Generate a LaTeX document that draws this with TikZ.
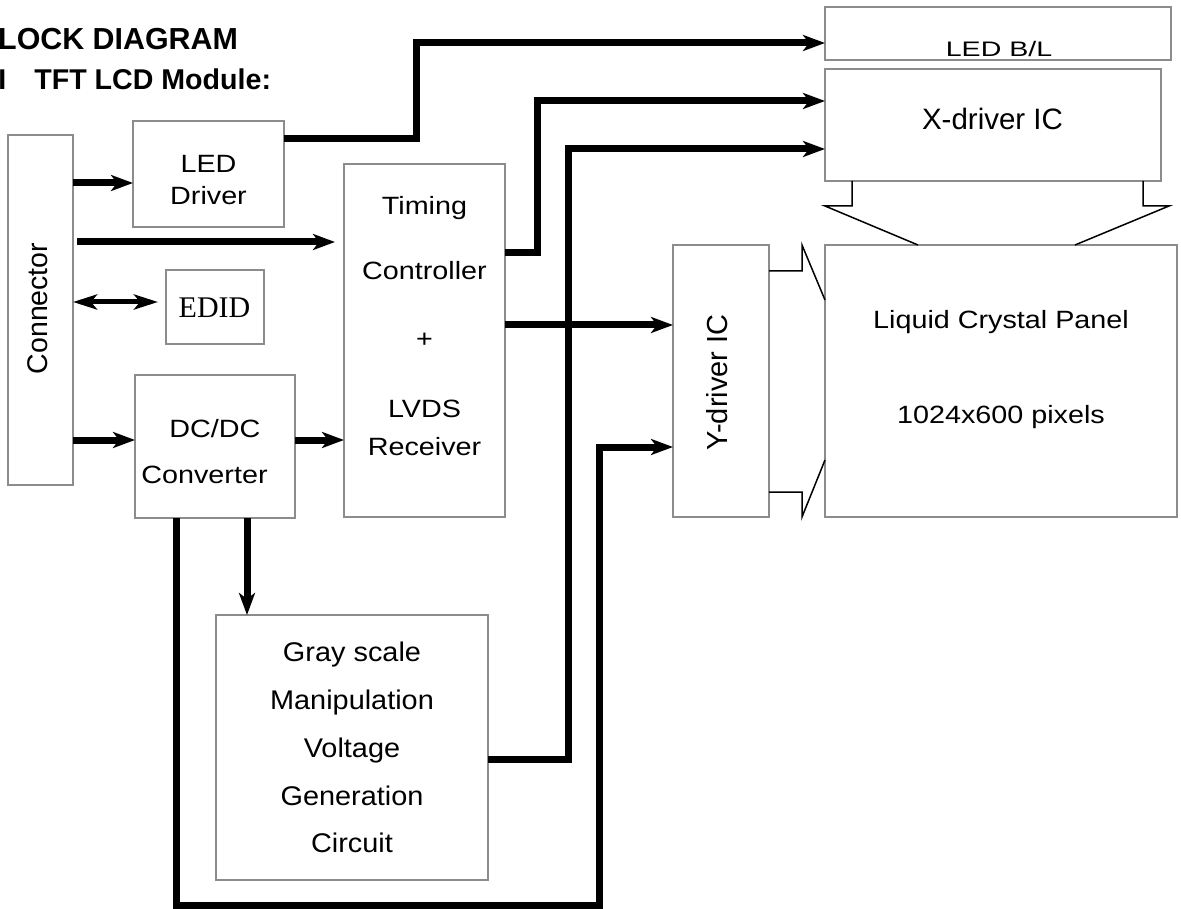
\documentclass[tikz,border=0pt]{standalone}
\usepackage{fontspec}
\setmainfont{Liberation Sans}
\newfontfamily\edidserif{Liberation Serif}
\usetikzlibrary{arrows.meta}
\definecolor{boxgray}{gray}{0.55}
\newcommand{\wtext}[2][1.15]{\scalebox{#1}[1]{#2}}

\begin{document}
\begin{tikzpicture}[x=1pt, y=-1pt,
            blk/.style={draw=boxgray, line width=1.5pt, inner sep=0pt, outer sep=0pt},
            txt/.style={inner sep=0pt, anchor=base, font=\fontsize{25}{30}\selectfont},
            gtxt/.style={inner sep=0pt, anchor=base, font=\fontsize{27}{32}\selectfont},
            vtxt/.style={inner sep=0pt, rotate=90, font=\fontsize{28.5}{34}\selectfont},
            hdg/.style={inner sep=0pt, anchor=base west, font=\bfseries\fontsize{30.4}{36}\selectfont},
            sig/.style={line width=7pt, -{Stealth[length=22pt, width=16pt, inset=6pt]}},
            bus/.style={line width=5pt, {Stealth[length=24pt, width=15pt, inset=6pt]}-{Stealth[length=24pt, width=15pt, inset=6pt]}},
            fan/.style={line width=1.5pt},
        ]

        \useasboundingbox (0,0) rectangle (1181,909);

        \node[hdg] (ttl) at (-2,50) {LOCK DIAGRAM};
        \node[hdg, font=\bfseries\fontsize{28.6}{34}\selectfont] (sub) at (-1.8,90) {I\hspace{28pt}TFT LCD Module:};

        \node[blk, minimum width=65pt, minimum height=350pt] (conn) at (40.5,310) {};
        \node[blk, minimum width=151pt, minimum height=106pt] (ledd) at (208.5,174) {};
        \node[blk, minimum width=98pt, minimum height=74pt] (edid) at (215,307) {};
        \node[blk, minimum width=160pt, minimum height=143pt] (dcdc) at (215,446.5) {};
        \node[blk, minimum width=161pt, minimum height=353pt] (tcon) at (424.5,340.5) {};
        \node[blk, minimum width=272pt, minimum height=265pt] (gray) at (352,747.5) {};
        \node[blk, minimum width=96pt, minimum height=272pt] (ydrv) at (721,381) {};
        \node[blk, minimum width=352pt, minimum height=272pt] (lcp) at (1001,381) {};
        \node[blk, minimum width=336pt, minimum height=112pt] (xdrv) at (993,125) {};
        \node[blk, minimum width=346pt, minimum height=53pt] (ledbl) at (998,33.5) {};

        \node[vtxt] (lconn) at (38,308.5) {Connector};
        \node[txt] (lled) at (208.5,173) {\wtext{LED}};
        \node[txt] (ldrv) at (208.5,205) {\wtext{Driver}};
        \node[txt, font=\edidserif\fontsize{30}{36}\selectfont] (ledid) at (214.5,318) {EDID};
        \node[txt] (ldc) at (215,437) {\wtext{DC/DC}};
        \node[txt] (lconv) at (204.5,483) {\wtext{Converter}};
        \node[txt] (ltim) at (424.5,215) {\wtext{Timing}};
        \node[txt] (lctl) at (424.5,280) {\wtext{Controller}};
        \node[txt] (lplus) at (424.5,348) {\wtext{+}};
        \node[txt] (llvds) at (424.5,417) {\wtext{LVDS}};
        \node[txt] (lrcv) at (424.5,455) {\wtext{Receiver}};
        \node[gtxt] (lg1) at (352,661) {\wtext[1.07]{Gray scale}};
        \node[gtxt] (lg2) at (352,709) {\wtext[1.07]{Manipulation}};
        \node[gtxt] (lg3) at (352,757) {\wtext[1.07]{Voltage}};
        \node[gtxt] (lg4) at (352,805) {\wtext[1.07]{Generation}};
        \node[gtxt] (lg5) at (352,852) {\wtext[1.07]{Circuit}};
        \node[vtxt, font=\fontsize{29}{35}\selectfont] (lyd) at (717.5,382.5) {Y-driver IC};
        \node[txt] (llcp) at (1001,329) {\wtext{Liquid Crystal Panel}};
        \node[txt] (lpix) at (1001,423) {\wtext{1024x600 pixels}};
        \node[txt, font=\fontsize{29.5}{35}\selectfont] (lxd) at (992.5,130) {X-driver IC};
        \node[txt, font=\fontsize{21}{25}\selectfont] (lbl) at (999,57) {\wtext[1.36]{LED B/L}};

        \coordinate (bl) at (416,43);
        \coordinate (tx) at (537,101);
        \coordinate (gx) at (568,149);
        \coordinate (lpa) at (176,905);
        \coordinate (lpb) at (599,447);

        \draw[sig] ([yshift=-9pt]ledd.west -| conn.east) -- ([yshift=-9pt]ledd.west);
        \draw[sig, shorten <=4pt, shorten >=9pt] ([yshift=98.5pt]tcon.west -| conn.east) -- ([yshift=98.5pt]tcon.west);
        \draw[bus, shorten >=8pt] ([yshift=5pt]edid.west -| conn.east) -- ([yshift=5pt]edid.west);
        \draw[sig] ([yshift=6.5pt]dcdc.west -| conn.east) -- ([yshift=6.5pt]dcdc.west);
        \draw[sig] ([yshift=6.5pt]dcdc.east) -- ([yshift=6.5pt]dcdc.east -| tcon.west);
        \draw[sig] ([xshift=32pt]dcdc.south) -- ([xshift=32pt]dcdc.south |- gray.north);
        \draw[sig] ([yshift=35pt]ledd.east) -| (bl) -- (bl -| ledbl.west);
        \draw[sig] ([yshift=87.5pt]tcon.east) -| (tx) -- (tx -| xdrv.west);
        \draw[sig] ([yshift=15.5pt]tcon.east) -- ([yshift=15.5pt]tcon.east -| ydrv.west);
        \draw[sig] ([yshift=-11.5pt]gray.east) -| (gx) -- (gx -| xdrv.west);
        \draw[sig] (dcdc.south -| lpa) -- (lpa) -| (lpb) -- (lpb -| ydrv.west);

        \draw[fan] ([xshift=27pt]xdrv.south west) -- ++(0,25) -- ++(-27,0) -- ([xshift=93pt]lcp.north west);
        \draw[fan] ([xshift=-18pt]xdrv.south east) -- ++(0,25) -- ++(26,0) -- ([xshift=-102pt]lcp.north east);
        \draw[fan] ([yshift=-26pt]ydrv.north east) -- ++(33,0) -- ++(0,-26) -- ([yshift=-55pt]lcp.north west);
        \draw[fan] ([yshift=25pt]ydrv.south east) -- ++(33,0) -- ++(0,25) -- ([yshift=57pt]lcp.south west);

    \end{tikzpicture}
\end{document}
